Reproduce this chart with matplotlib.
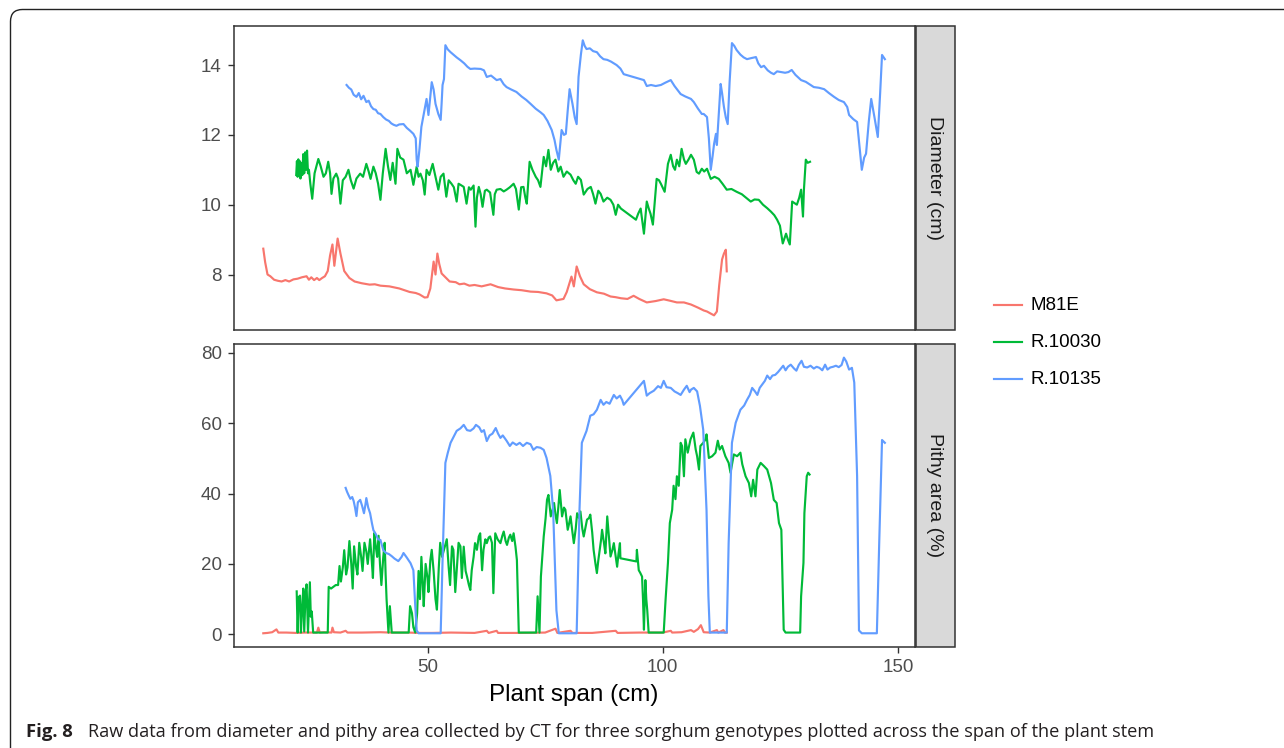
import matplotlib
matplotlib.use("Agg")
import matplotlib.pyplot as plt
from matplotlib.lines import Line2D
from matplotlib.patches import FancyBboxPatch, Rectangle
from matplotlib.transforms import IdentityTransform

# ---------------- data ----------------
genotypes = ["M81E", "R.10030", "R.10135"]
colors = ["#F8766D", "#00BA38", "#619CFF"]
facet_labels = ["Diameter (cm)", "Pithy area (%)"]
x_ticks = [50, 100, 150]
diam_ticks = [8, 10, 12, 14]
pithy_ticks = [0, 20, 40, 60, 80]

m81e_diam = [(15.1, 8.74), (15.5, 8.35), (16.0, 8.0), (16.6, 7.95), (17.4, 7.85), (18.2, 7.82), (19.0, 7.8),
             (19.8, 7.84), (20.6, 7.8), (21.5, 7.86), (22.4, 7.88), (23.3, 7.92), (24.3, 7.95), (24.8, 7.85),
             (25.3, 7.92), (25.9, 7.84), (26.5, 7.9), (27.0, 7.84), (27.6, 7.9), (28.2, 7.95), (28.8, 8.1),
             (29.3, 8.55), (29.8, 8.86), (30.2, 8.25), (30.9, 9.03), (31.5, 8.6), (32.3, 8.1), (33.4, 7.9),
             (34.5, 7.8), (36.0, 7.75), (37.7, 7.71), (38.8, 7.72), (40.0, 7.68), (41.9, 7.66), (44.0, 7.6),
             (46.2, 7.5), (47.5, 7.47), (48.3, 7.43), (49.4, 7.34), (50.0, 7.35), (50.6, 7.6), (51.3, 8.37),
             (51.7, 8.0), (52.1, 8.6), (52.5, 8.3), (53.0, 8.03), (54.7, 7.8), (56.0, 7.78), (56.8, 7.72),
             (57.8, 7.74), (58.9, 7.68), (60.0, 7.7), (61.5, 7.66), (63.4, 7.72), (65.0, 7.64), (66.5, 7.6),
             (68.3, 7.57), (70.0, 7.55), (71.9, 7.51), (73.5, 7.5), (75.3, 7.46), (76.5, 7.4), (77.4, 7.26),
             (78.9, 7.3), (79.6, 7.5), (80.6, 7.94), (81.1, 7.66), (81.7, 8.23), (82.4, 7.95), (83.2, 7.72),
             (84.5, 7.58), (86.0, 7.49), (87.5, 7.45), (88.9, 7.37), (90.0, 7.35), (91.1, 7.32), (92.5, 7.3),
             (93.8, 7.39), (95.0, 7.3), (96.6, 7.2), (98.5, 7.24), (100.2, 7.29), (101.5, 7.25), (103.0, 7.2),
             (104.5, 7.2), (106.0, 7.14), (107.5, 7.05), (108.7, 6.97), (109.4, 6.94), (110.2, 6.88),
             (110.9, 6.83), (111.5, 6.94), (112.0, 7.7), (112.6, 8.43), (113.0, 8.6), (113.4, 8.71), (113.6, 8.09)]

r10030_diam = [(22.1, 10.85), (22.25, 11.25), (22.4, 10.8), (22.55, 11.3), (22.7, 10.9), (22.85, 11.25),
               (23.0, 10.75), (23.2, 11.2), (23.4, 10.85), (23.6, 11.45), (23.8, 10.9), (24.0, 11.5),
               (24.2, 11.0), (24.4, 11.55), (24.6, 10.9), (24.8, 11.0), (25.1, 10.6), (25.5, 10.17),
               (26.0, 10.9), (26.8, 11.31), (27.3, 11.1), (27.9, 10.8), (28.4, 10.9), (28.9, 11.23),
               (29.3, 10.9), (29.6, 10.31), (30.0, 10.75), (30.6, 10.89), (31.0, 10.75), (31.5, 10.03),
               (32.0, 10.7), (32.6, 10.8), (33.2, 11.0), (33.7, 10.7), (34.3, 10.46), (34.9, 10.75),
               (35.7, 10.89), (36.3, 10.8), (37.0, 11.17), (37.5, 10.95), (37.9, 10.74), (38.5, 11.09),
               (39.0, 10.9), (39.5, 10.6), (40.0, 10.14), (40.5, 10.9), (41.1, 11.6), (41.6, 11.1),
               (42.1, 10.71), (42.6, 11.2), (43.2, 10.6), (43.6, 11.6), (44.2, 11.35), (44.9, 11.29),
               (45.6, 10.9), (46.4, 11.0), (47.0, 10.57), (47.7, 11.09), (48.1, 10.8), (48.5, 10.89),
               (49.0, 10.7), (49.4, 10.29), (49.8, 11.0), (50.4, 10.85), (51.1, 11.17), (51.7, 10.8),
               (52.3, 10.43), (52.8, 10.8), (53.4, 10.89), (54.0, 10.23), (54.5, 10.7), (55.1, 10.6),
               (55.6, 10.5), (56.2, 10.09), (56.6, 10.6), (57.0, 10.57), (57.7, 10.51), (58.3, 10.03),
               (58.8, 10.5), (59.2, 10.43), (59.8, 10.55), (60.2, 9.37), (60.5, 10.2), (60.9, 10.51),
               (61.3, 10.3), (61.7, 9.94), (62.2, 10.4), (62.6, 10.43), (63.3, 10.35), (64.0, 9.71),
               (64.3, 10.3), (64.7, 10.43), (65.5, 10.45), (66.2, 10.38), (66.8, 10.43), (67.5, 10.5),
               (68.3, 10.6), (68.8, 10.45), (69.4, 9.86), (69.9, 10.5), (70.4, 10.51), (70.8, 10.2),
               (71.1, 10.03), (71.7, 11.23), (72.3, 11.0), (73.0, 10.8), (73.5, 10.7), (74.0, 10.51),
               (74.7, 11.37), (75.2, 11.1), (75.7, 11.57), (76.2, 11.0), (76.7, 11.2), (77.2, 11.29),
               (77.8, 10.95), (78.3, 11.09), (78.9, 10.8), (79.6, 10.95), (80.4, 10.86), (81.0, 10.7),
               (81.5, 10.6), (82.0, 10.8), (82.6, 10.71), (83.2, 10.29), (84.0, 10.45), (84.7, 10.51),
               (85.2, 10.3), (85.7, 10.03), (86.3, 10.4), (86.8, 10.31), (87.4, 10.09), (88.2, 10.2),
               (88.9, 10.14), (89.5, 10.0), (90.0, 9.71), (90.5, 10.0), (91.1, 9.89), (94.3, 9.57),
               (94.8, 9.75), (95.3, 9.89), (96.0, 9.17), (96.6, 10.09), (97.0, 9.9), (97.4, 9.74),
               (97.9, 9.43), (98.7, 10.74), (99.2, 10.7), (99.6, 10.6), (100.4, 10.37), (101.1, 11.17),
               (101.7, 11.43), (102.2, 11.1), (102.6, 11.0), (103.0, 11.29), (103.5, 11.1), (104.0, 11.6),
               (104.5, 11.3), (104.9, 11.17), (105.5, 11.3), (106.0, 11.43), (106.6, 11.29), (107.2, 10.94),
               (107.7, 10.89), (108.3, 11.03), (108.8, 10.95), (109.4, 11.03), (110.2, 10.74), (111.0, 10.8),
               (111.9, 10.74), (112.7, 10.6), (113.6, 10.43), (114.6, 10.45), (115.7, 10.37), (116.8, 10.3),
               (117.7, 10.2), (118.7, 10.09), (119.5, 10.15), (120.4, 10.14), (121.3, 10.0), (122.2, 9.9),
               (123.0, 9.8), (123.7, 9.7), (124.3, 9.57), (124.9, 9.4), (125.5, 8.89), (126.2, 9.17),
               (126.6, 9.0), (127.0, 8.86), (127.5, 10.09), (128.5, 10.0), (129.0, 10.2), (129.4, 10.43),
               (129.8, 9.66), (130.0, 10.43), (130.4, 11.29), (130.8, 11.2), (131.3, 11.23)]

r10135_diam = [(32.8, 13.43), (33.3, 13.35), (33.8, 13.3), (34.3, 13.15), (34.9, 13.09), (35.4, 13.2),
               (35.9, 13.02), (36.4, 13.12), (37.0, 12.94), (37.5, 12.98), (38.0, 12.82), (38.5, 12.74),
               (39.0, 12.72), (39.5, 12.62), (40.0, 12.6), (40.6, 12.51), (41.2, 12.44), (41.8, 12.4),
               (42.3, 12.33), (42.8, 12.29), (43.4, 12.26), (44.0, 12.3), (44.9, 12.31), (45.6, 12.2),
               (46.3, 12.12), (47.0, 12.03), (47.5, 11.9), (47.7, 11.29), (47.9, 11.09), (48.3, 11.6),
               (48.7, 12.23), (49.2, 12.6), (49.8, 13.03), (50.2, 12.57), (50.6, 13.1), (50.9, 13.51),
               (51.3, 13.3), (51.7, 12.89), (52.3, 12.6), (52.8, 12.43), (53.0, 12.9), (53.2, 13.43),
               (53.5, 13.6), (53.8, 14.57), (54.3, 14.45), (54.9, 14.37), (55.5, 14.3), (56.2, 14.22),
               (57.0, 14.14), (57.8, 14.05), (58.5, 13.95), (59.1, 13.89), (60.0, 13.9), (61.3, 13.89),
               (62.0, 13.85), (62.6, 13.66), (63.5, 13.7), (64.7, 13.57), (65.5, 13.6), (66.2, 13.45),
               (66.8, 13.37), (67.8, 13.3), (68.9, 13.23), (70.0, 13.1), (71.0, 13.0), (71.9, 12.89),
               (73.0, 12.75), (74.0, 12.65), (74.7, 12.57), (75.5, 12.4), (76.4, 12.14), (77.0, 11.85),
               (77.4, 11.57), (77.9, 11.29), (78.2, 11.7), (78.5, 12.14), (79.0, 12.0), (79.4, 12.03),
               (79.8, 12.7), (80.2, 13.31), (80.8, 12.9), (81.3, 12.5), (81.7, 12.31), (82.1, 13.66),
               (82.6, 14.3), (83.0, 14.71), (83.4, 14.55), (83.8, 14.46), (84.5, 14.48), (85.2, 14.4),
               (86.0, 14.37), (86.7, 14.25), (87.4, 14.17), (88.2, 14.15), (89.0, 14.1), (90.2, 14.0),
               (91.0, 13.9), (91.7, 13.74), (96.0, 13.57), (96.6, 13.4), (97.5, 13.43), (98.5, 13.4),
               (99.6, 13.43), (100.6, 13.5), (101.7, 13.57), (102.5, 13.4), (103.8, 13.17), (104.8, 13.1),
               (106.0, 13.03), (106.6, 12.94), (107.5, 12.75), (108.3, 12.6), (108.7, 12.6), (109.4, 12.51),
               (109.8, 11.9), (110.2, 11.0), (110.6, 11.4), (110.9, 11.74), (111.3, 12.03), (111.5, 11.71),
               (111.9, 12.6), (112.3, 13.46), (112.6, 13.2), (113.0, 12.8), (113.4, 12.5), (113.8, 12.31),
               (114.2, 13.5), (114.7, 14.63), (115.2, 14.55), (115.7, 14.43), (116.5, 14.3), (117.2, 14.22),
               (117.9, 14.17), (118.8, 14.2), (119.8, 14.23), (120.3, 14.05), (120.9, 13.94), (121.5, 13.98),
               (122.3, 13.85), (123.0, 13.78), (123.6, 13.74), (124.3, 13.82), (125.1, 13.8), (126.0, 13.78),
               (126.7, 13.8), (127.4, 13.86), (128.2, 13.72), (129.4, 13.57), (130.4, 13.52), (131.2, 13.45),
               (132.1, 13.37), (133.2, 13.35), (134.3, 13.31), (135.3, 13.2), (136.4, 13.09), (137.4, 13.0),
               (138.5, 12.94), (139.2, 12.8), (139.6, 12.57), (140.5, 12.45), (141.3, 12.37), (141.8, 11.7),
               (142.3, 11.0), (142.8, 11.35), (143.2, 11.46), (143.8, 12.4), (144.3, 13.03), (145.0, 12.5),
               (145.7, 11.94), (146.2, 13.2), (146.6, 14.29), (147.2, 14.17)]

m81e_pithy = [(15.1, 0.3), (16.0, 0.4), (17.0, 0.6), (17.9, 1.4), (18.3, 0.5), (20.0, 0.5), (22.0, 0.4),
              (24.0, 0.5), (26.5, 0.5), (26.8, 1.9), (27.1, 0.5), (28.0, 0.6), (29.6, 0.5), (29.8, 1.9),
              (30.1, 0.6), (31.5, 0.5), (32.6, 1.0), (33.0, 0.5), (36.0, 0.5), (40.0, 0.6), (42.0, 0.5),
              (46.0, 0.5), (48.0, 0.4), (51.0, 0.4), (55.0, 0.5), (60.0, 0.4), (62.6, 1.0), (63.0, 0.4),
              (64.7, 1.0), (65.0, 0.4), (70.0, 0.4), (75.0, 0.5), (77.2, 1.6), (77.6, 0.4), (80.4, 1.0),
              (80.8, 0.4), (85.0, 0.4), (90.0, 1.0), (90.4, 0.4), (95.0, 0.5), (100.0, 0.5), (101.7, 1.0),
              (102.0, 0.5), (104.0, 0.6), (106.0, 1.2), (106.6, 0.7), (107.5, 1.5), (108.1, 2.6),
              (108.7, 0.6), (110.0, 0.5), (111.5, 1.2), (111.8, 0.5), (112.9, 1.2), (113.2, 0.5), (113.6, 0.5)]

r10030_pithy = [(22.2, 12.2), (22.4, 0.5), (22.6, 10.5), (22.9, 11.0), (23.1, 0.5), (23.3, 6.0), (23.6, 13.0),
                (23.8, 0.8), (24.1, 12.0), (24.3, 14.2), (24.6, 0.5), (24.8, 8.0), (25.0, 14.8), (25.2, 5.0),
                (25.4, 6.5), (25.7, 0.5), (27.0, 0.5), (28.8, 0.5), (29.0, 13.5), (29.5, 13.0), (30.0, 13.5),
                (30.5, 14.0), (31.0, 14.0), (31.3, 19.4), (31.6, 15.0), (32.0, 19.0), (32.3, 23.9), (32.7, 17.0),
                (33.0, 19.0), (33.4, 26.5), (33.8, 20.0), (34.1, 13.0), (34.4, 25.0), (34.8, 19.5), (35.1, 17.0),
                (35.5, 26.0), (35.9, 22.0), (36.2, 18.0), (36.6, 26.0), (37.0, 23.5), (37.3, 20.0), (37.8, 27.0),
                (38.1, 22.0), (38.4, 16.0), (38.7, 28.8), (39.0, 25.0), (39.3, 22.0), (39.6, 28.0), (39.9, 20.0),
                (40.2, 14.0), (40.6, 22.0), (40.9, 26.0), (41.1, 17.0), (41.3, 10.0), (41.7, 0.5), (42.0, 8.0),
                (42.4, 0.5), (44.0, 0.5), (46.0, 0.5), (46.3, 8.0), (46.7, 6.0), (47.0, 2.0), (47.4, 0.5),
                (47.8, 6.0), (48.1, 18.0), (48.4, 10.0), (48.7, 22.0), (49.0, 14.0), (49.2, 8.0), (49.6, 20.0),
                (50.0, 16.0), (50.2, 12.0), (50.6, 21.0), (50.9, 24.0), (51.3, 18.0), (51.7, 10.0), (52.0, 7.0),
                (52.4, 19.0), (52.7, 26.0), (53.1, 22.0), (53.5, 24.0), (54.1, 27.0), (54.5, 19.0), (54.8, 14.0),
                (55.2, 25.0), (55.5, 24.0), (55.9, 12.0), (56.3, 20.0), (56.6, 26.0), (57.0, 25.0), (57.3, 16.0),
                (57.7, 24.9), (58.1, 18.0), (58.4, 16.4), (58.8, 14.0), (59.1, 12.6), (59.4, 18.2), (59.8, 22.0),
                (60.1, 25.9), (60.5, 24.0), (60.9, 27.8), (61.2, 28.7), (61.6, 18.2), (61.9, 24.0), (62.3, 27.0),
                (62.6, 25.9), (63.0, 27.5), (63.3, 27.8), (63.7, 26.0), (64.0, 11.7), (64.4, 28.7), (64.9, 27.0),
                (65.5, 25.9), (65.9, 28.0), (66.2, 29.2), (66.6, 26.5), (66.9, 25.4), (67.3, 27.5), (67.6, 28.3),
                (68.0, 26.5), (68.3, 28.7), (68.7, 24.9), (69.0, 21.1), (69.4, 0.5), (71.0, 0.5), (73.1, 0.5),
                (73.4, 10.8), (73.8, 0.5), (74.1, 16.4), (74.4, 22.0), (74.7, 27.8), (75.1, 33.0), (75.4, 38.2),
                (75.7, 39.6), (76.0, 36.0), (76.2, 33.5), (76.6, 35.5), (76.9, 37.3), (77.2, 34.0), (77.5, 31.6),
                (77.8, 36.0), (78.1, 41.0), (78.4, 36.5), (78.6, 33.5), (79.0, 36.0), (79.3, 35.4), (79.6, 32.0),
                (79.8, 29.7), (80.1, 31.5), (80.4, 33.5), (80.8, 29.0), (81.1, 25.9), (81.5, 30.0), (81.8, 34.4),
                (82.2, 33.0), (82.5, 34.9), (82.9, 30.0), (83.2, 27.8), (83.6, 30.5), (83.9, 32.6), (84.3, 33.0),
                (84.6, 34.0), (85.0, 29.0), (85.3, 24.0), (85.7, 20.0), (86.0, 17.4), (86.3, 21.0), (86.6, 24.0),
                (86.9, 27.0), (87.1, 29.7), (87.5, 26.0), (87.8, 23.0), (88.2, 33.5), (88.6, 27.0), (88.9, 22.1),
                (89.3, 24.0), (89.6, 25.9), (90.0, 22.0), (90.3, 19.2), (90.6, 23.0), (90.9, 25.9), (91.0, 21.6),
                (94.4, 20.7), (94.5, 24.0), (94.9, 18.2), (95.2, 17.5), (95.6, 16.4), (95.8, 10.0), (96.0, 1.3),
                (96.3, 15.4), (96.5, 10.0), (96.7, 6.9), (97.0, 0.5), (98.5, 0.5), (100.2, 0.5), (100.6, 9.9),
                (101.1, 20.3), (101.5, 31.6), (102.0, 35.4), (102.3, 42.2), (102.7, 38.4), (103.0, 44.9),
                (103.4, 42.2), (103.8, 54.4), (104.1, 53.5), (104.5, 44.9), (104.8, 55.4), (105.3, 51.6),
                (105.9, 55.4), (106.5, 57.3), (107.0, 52.5), (107.3, 50.6), (107.7, 46.8), (108.0, 53.5),
                (108.6, 54.4), (109.1, 55.4), (109.3, 56.8), (109.8, 50.1), (110.5, 50.6), (111.2, 51.6),
                (111.7, 55.0), (112.1, 52.5), (112.6, 53.5), (113.3, 50.6), (114.0, 48.7), (114.4, 45.9),
                (115.1, 51.1), (115.8, 50.6), (116.5, 51.6), (116.9, 48.3), (117.6, 44.9), (118.3, 43.0),
                (118.8, 39.2), (119.2, 43.9), (119.7, 39.2), (120.1, 46.8), (120.8, 48.7), (121.5, 47.8),
                (122.2, 46.8), (123.0, 43.0), (123.6, 38.2), (124.2, 37.3), (124.7, 31.6), (125.2, 29.7),
                (125.7, 1.3), (126.1, 0.5), (128.0, 0.5), (129.2, 0.5), (129.4, 10.8), (129.9, 20.3),
                (130.1, 34.4), (130.6, 44.9), (130.9, 45.9), (131.2, 45.4)]

r10135_pithy = [(32.6, 41.6), (32.9, 40.5), (33.2, 39.6), (33.6, 38.5), (34.0, 39.0), (34.3, 37.9), (34.6, 36.0),
                (34.9, 33.6), (35.2, 37.5), (35.7, 38.2), (36.1, 36.5), (36.5, 34.4), (36.8, 36.8), (37.0, 38.7),
                (37.4, 36.0), (37.8, 34.4), (38.2, 31.5), (38.5, 29.6), (39.0, 28.5), (39.5, 27.0), (40.0, 26.8),
                (40.6, 23.9), (41.2, 23.1), (41.8, 22.8), (42.4, 22.2), (43.0, 21.5), (43.8, 20.8), (44.5, 22.0),
                (44.9, 23.1), (45.6, 21.8), (46.4, 20.2), (47.0, 18.2), (47.4, 8.0), (47.7, 1.1), (48.1, 0.3),
                (50.0, 0.3), (52.0, 0.3), (52.8, 0.3), (53.2, 21.0), (53.8, 48.7), (54.3, 51.5), (54.9, 54.4),
                (55.5, 56.0), (56.2, 57.8), (57.0, 58.5), (57.7, 59.5), (58.4, 58.0), (59.1, 57.8), (59.8, 58.5),
                (60.3, 59.5), (61.0, 58.8), (61.5, 57.5), (62.0, 58.0), (62.6, 54.9), (63.2, 56.5), (63.8, 57.0),
                (64.5, 58.6), (65.0, 57.0), (65.5, 55.8), (66.0, 56.5), (66.8, 55.0), (67.5, 53.5), (68.1, 54.5),
                (68.9, 53.8), (69.6, 54.4), (70.3, 53.5), (71.1, 54.4), (71.9, 54.0), (72.5, 52.4), (73.2, 53.2),
                (74.0, 53.0), (74.7, 52.4), (75.3, 50.1), (76.1, 45.0), (76.7, 35.3), (77.4, 6.8), (77.9, 0.3),
                (80.0, 0.3), (81.7, 0.3), (82.3, 35.3), (82.8, 54.4), (83.8, 57.8), (84.6, 62.1), (85.3, 62.5),
                (86.0, 63.8), (86.8, 66.6), (87.4, 65.2), (88.0, 66.0), (88.7, 65.5), (89.6, 68.0), (90.2, 67.0),
                (90.9, 67.8), (91.4, 66.5), (91.7, 65.2), (96.0, 72.0), (96.6, 67.8), (97.2, 68.5), (98.1, 69.2),
                (99.0, 70.5), (99.6, 70.0), (100.2, 72.0), (100.8, 70.2), (101.7, 70.0), (102.5, 69.0),
                (103.2, 68.5), (103.8, 68.0), (104.5, 69.5), (105.1, 70.6), (105.7, 68.8), (106.0, 69.5),
                (106.6, 70.0), (107.3, 69.0), (107.9, 64.9), (108.6, 58.1), (109.3, 35.3), (109.7, 10.8),
                (110.0, 0.5), (112.0, 0.5), (113.6, 0.5), (114.0, 25.9), (114.7, 54.4), (115.5, 60.1),
                (116.5, 63.8), (117.3, 65.0), (117.9, 66.6), (118.5, 68.0), (119.0, 70.0), (119.6, 69.0),
                (120.1, 68.0), (120.6, 70.0), (121.1, 70.9), (121.7, 72.0), (122.2, 73.5), (122.8, 72.5),
                (123.3, 73.5), (123.9, 73.7), (124.5, 74.5), (125.1, 75.5), (125.6, 76.3), (126.1, 75.0),
                (126.6, 76.0), (127.2, 76.6), (127.9, 75.5), (128.4, 74.9), (128.9, 76.5), (129.5, 77.7),
                (130.0, 76.0), (130.7, 75.8), (131.4, 76.3), (132.1, 75.5), (132.7, 76.0), (133.3, 75.7),
                (133.9, 75.0), (134.5, 76.6), (135.0, 75.2), (135.6, 75.8), (136.2, 76.0), (136.8, 76.3),
                (137.4, 75.9), (138.0, 76.5), (138.5, 78.6), (139.0, 77.5), (139.6, 75.2), (140.2, 75.7),
                (140.7, 71.5), (141.3, 45.0), (141.7, 1.1), (142.3, 0.3), (144.0, 0.3), (145.5, 0.3),
                (146.0, 25.9), (146.6, 55.2), (147.2, 54.4)]

diam_series = [m81e_diam, r10030_diam, r10135_diam]
pithy_series = [m81e_pithy, r10030_pithy, r10135_pithy]

# ---------------- figure ----------------
plt.rcParams["font.family"] = ["Liberation Sans", "DejaVu Sans"]
W, H = 1284, 748
fig = plt.figure(figsize=(W / 100, H / 100), dpi=100)
fig.patch.set_facecolor("white")


def fx(px):
    return px / W


def fy(py):
    return 1 - py / H


L, R = 233.5, 914.5
panels = [(26, 330), (344, 647)]
axes = []
for (top, bot) in panels:
    ax = fig.add_axes([fx(L), fy(bot), (R - L) / W, (bot - top) / H])
    axes.append(ax)
ax_d, ax_p = axes

frame_col = "#333333"
line_w = 1.55
for ax, series, yt, ylim in [(ax_d, diam_series, diam_ticks, (6.41, 15.12)),
                             (ax_p, pithy_series, pithy_ticks, (-3.6, 82.47))]:
    for s, c in zip(series, colors):
        xs = [p[0] for p in s]
        ys = [p[1] for p in s]
        ax.plot(xs, ys, color=c, lw=line_w, solid_joinstyle="round")
    ax.set_xlim(8.77, 153.5)
    ax.set_ylim(*ylim)
    ax.set_yticks(yt)
    ax.set_xticks(x_ticks)
    for sp in ax.spines.values():
        sp.set_color(frame_col)
        sp.set_linewidth(1.1)
    ax.tick_params(axis="both", colors=frame_col, labelcolor="#4D4D4D", labelsize=13.5,
                   length=4.5, width=1.0, pad=4)

ax_d.tick_params(axis="x", bottom=False, labelbottom=False)
ax_p.set_xlabel("Plant span (cm)", fontsize=17.5, color="black", labelpad=6)

# strips
for (top, bot), lab in zip(panels, facet_labels):
    fig.add_artist(Rectangle((fx(915.5), fy(bot)), 39 / W, (bot - top) / H, transform=fig.transFigure,
                             facecolor="#D9D9D9", edgecolor=frame_col, lw=1.1))
    fig.text(fx(935), fy((top + bot) / 2), lab, rotation=-90, ha="center", va="center",
             fontsize=14, color="#1A1A1A")

# legend
leg_y = [305, 342, 379]
for name, c, yy in zip(genotypes, colors, leg_y):
    fig.add_artist(Line2D([fx(994), fx(1022)], [fy(yy), fy(yy)], color=c, lw=line_w,
                          transform=fig.transFigure))
    fig.text(fx(1031), fy(yy), name, ha="left", va="center", fontsize=13.5, color="black")

# frame with rounded corner
fig.add_artist(FancyBboxPatch((10.5, -30), 1400, H - 9.5 + 30, boxstyle="round,pad=0,rounding_size=12",
                              transform=IdentityTransform(), facecolor="none", edgecolor="#222222", lw=1.0))

# caption
cap_font = ["Open Sans", "DejaVu Sans"]
fig.text(fx(26), fy(737), "Fig. 8", ha="left", va="baseline", fontsize=13.3,
         fontweight="bold", family=cap_font, color="#231F20")
fig.text(fx(88), fy(737),
         "Raw data from diameter and pithy area collected by CT for three sorghum genotypes plotted across the span of the plant stem",
         ha="left", va="baseline", fontsize=13.1, family=cap_font, color="#231F20")

fig.savefig("out.png", dpi=100)
